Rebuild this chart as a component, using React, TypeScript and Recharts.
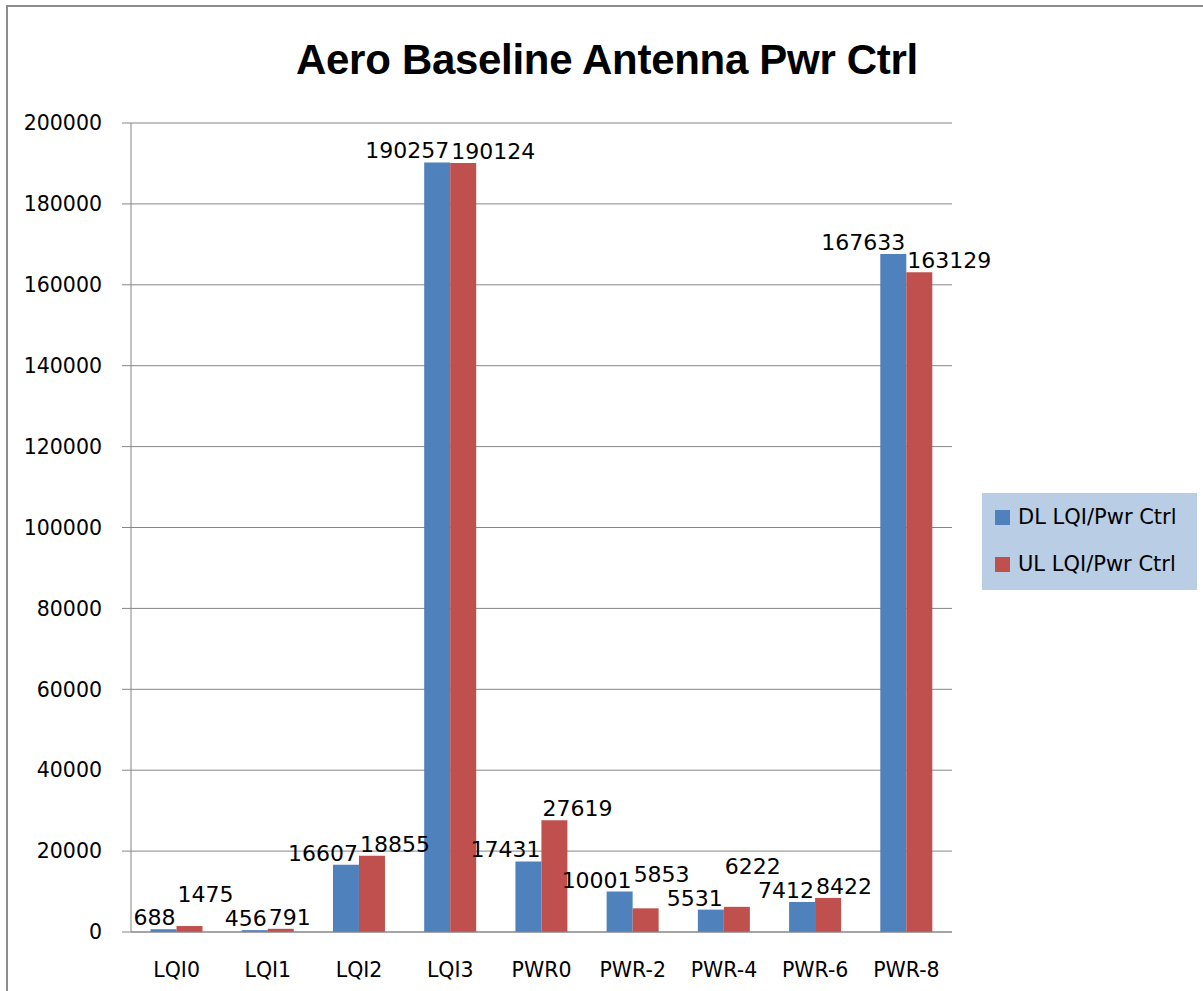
import React from "react"
import { Bar, BarChart, CartesianGrid, LabelList, XAxis, YAxis } from "recharts"

// Excel-style clustered column chart: DL vs UL counts per LQI / power step
const categories = ["LQI0", "LQI1", "LQI2", "LQI3", "PWR0", "PWR-2", "PWR-4", "PWR-6", "PWR-8"]
const dlValues = [688, 456, 16607, 190257, 17431, 10001, 5531, 7412, 167633]
const ulValues = [1475, 791, 18855, 190124, 27619, 5853, 6222, 8422, 163129]
const yTicks = [0, 20000, 40000, 60000, 80000, 100000, 120000, 140000, 160000, 180000, 200000]
const seriesNames = ["DL LQI/Pwr Ctrl", "UL LQI/Pwr Ctrl"]

const BLUE = "#4F81BD"
const RED = "#C0504D"
const AXIS = "#868686"
const FONT = "'DejaVu Sans', sans-serif"
const LABEL_SIZE = 22
const GAP = 0.214

const data = categories.map((name, i) => ({ name, dl: dlValues[i], ul: ulValues[i] }))
const edgeTicks = [...categories.map((_, i) => i), categories.length]

const textW = (v: number) => String(v).length * 0.636 * LABEL_SIZE

// DL labels end at the bar's right edge
function dlLabel(props: any) {
  const { x, y, width, value } = props
  return (
    <text x={Number(x) + Number(width) - 1} y={Number(y) - 4} textAnchor="end" fontSize={LABEL_SIZE} fontFamily={FONT} fill="#000">
      {value}
    </text>
  )
}

// UL labels start at the bar's left edge; bumped up when they would run into
// the next category's DL label (like Excel does)
function ulLabel(props: any) {
  const { x, y, width, height, value, index } = props
  const v = Number(value)
  const h = Number(height)
  const base = Number(y) + h
  let ty = Number(y) - 4
  const next = dlValues[index + 1]
  if (next !== undefined && v > 0) {
    const band = (2 * Number(width)) / (1 - 2 * GAP)
    const nextY = base - (h / v) * next - 4
    if (textW(v) + textW(next) > band && Math.abs(nextY - ty) < 24) ty = Math.min(ty, nextY - 24)
  }
  return (
    <text x={Number(x) + 1} y={ty} textAnchor="start" fontSize={LABEL_SIZE} fontFamily={FONT} fill="#000">
      {value}
    </text>
  )
}

export default function App() {
  return (
    <div style={{ position: "absolute", left: 0, top: 0, width: 1203, height: 991, overflow: "hidden", background: "#fff" }}>
      <div
        style={{
          position: "absolute",
          left: 6,
          top: 5,
          width: 1300,
          height: 1100,
          borderLeft: "2px solid #8c8c8c",
          borderTop: "2px solid #8c8c8c",
        }}
      />
      <div
        style={{
          position: "absolute",
          left: 0,
          width: 1214,
          top: 35,
          textAlign: "center",
          fontFamily: "'Liberation Sans', sans-serif",
          fontWeight: "bold",
          fontSize: 42,
          lineHeight: "50px",
          letterSpacing: -0.3,
        }}
      >
        Aero Baseline Antenna Pwr Ctrl
      </div>

      <div style={{ position: "absolute", left: 0, top: 0 }}>
        <BarChart
          width={1203}
          height={991}
          data={data}
          margin={{ top: 123, right: 251, left: 31, bottom: 9 }}
          barCategoryGap={`${GAP * 100}%`}
          barGap={0}
        >
          <CartesianGrid vertical={false} stroke={AXIS} />
          <XAxis
            xAxisId="edges"
            type="number"
            domain={[0, categories.length]}
            ticks={edgeTicks}
            allowDataOverflow
            tick={false}
            tickSize={9}
            tickLine={{ stroke: AXIS }}
            axisLine={false}
            height={0}
          />
          <XAxis
            xAxisId="cat"
            dataKey="name"
            interval={0}
            tickLine={false}
            axisLine={{ stroke: AXIS }}
            tickMargin={24}
            height={50}
            tick={{ fontSize: 20.5, fontFamily: FONT, fill: "#000" }}
          />
          <YAxis
            domain={[0, 200000]}
            ticks={yTicks}
            interval={0}
            width={100}
            tickSize={9}
            tickMargin={20}
            axisLine={{ stroke: AXIS }}
            tickLine={{ stroke: AXIS }}
            tick={{ fontSize: 20.5, fontFamily: FONT, fill: "#000" }}
          />
          <Bar xAxisId="cat" dataKey="dl" name={seriesNames[0]} fill={BLUE} isAnimationActive={false}>
            <LabelList dataKey="dl" content={dlLabel} />
          </Bar>
          <Bar xAxisId="cat" dataKey="ul" name={seriesNames[1]} fill={RED} isAnimationActive={false}>
            <LabelList dataKey="ul" content={ulLabel} />
          </Bar>
        </BarChart>
      </div>

      <div
        style={{
          position: "absolute",
          left: 982,
          top: 493,
          width: 215,
          height: 97,
          background: "#B9CDE5",
          fontFamily: FONT,
          fontSize: 21,
        }}
      >
        {seriesNames.map((name, i) => (
          <div
            key={name}
            style={{ position: "absolute", left: 13, top: 11 + i * 47, display: "flex", alignItems: "center", whiteSpace: "nowrap" }}
          >
            <span style={{ display: "inline-block", width: 15, height: 15, background: i === 0 ? BLUE : RED, marginRight: 8 }} />
            <span style={{ lineHeight: "26px" }}>{name}</span>
          </div>
        ))}
      </div>
    </div>
  )
}
